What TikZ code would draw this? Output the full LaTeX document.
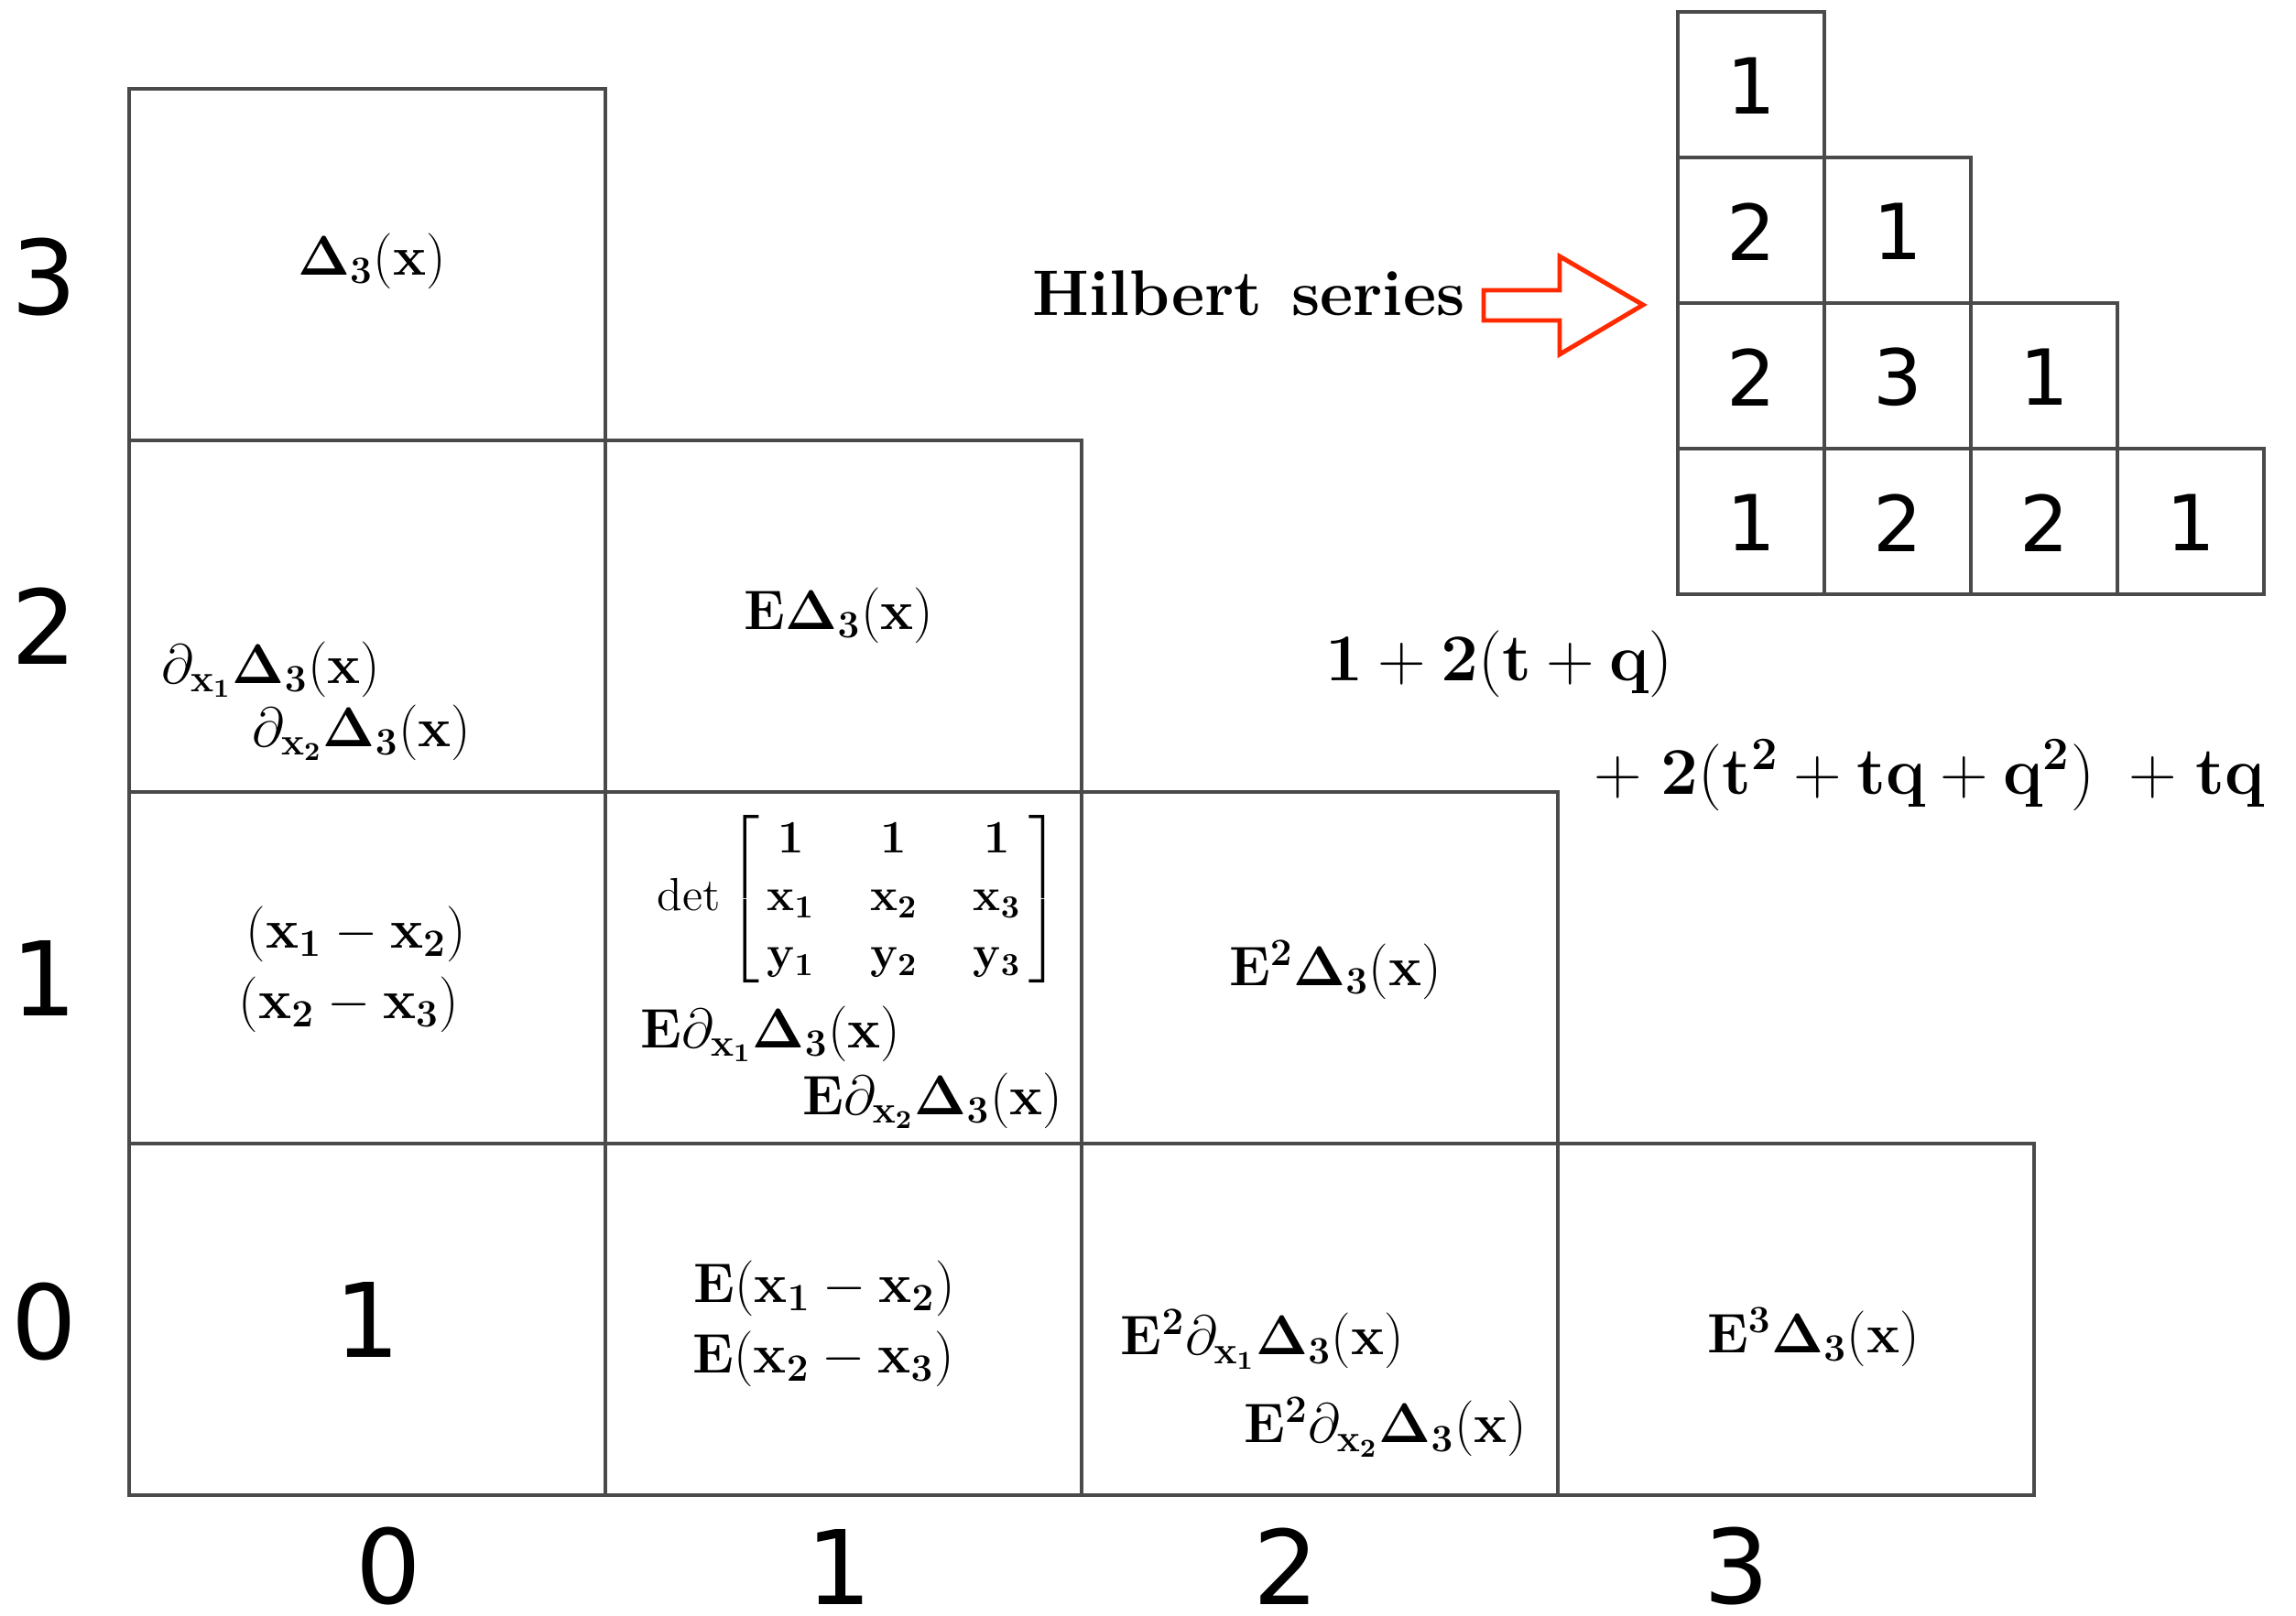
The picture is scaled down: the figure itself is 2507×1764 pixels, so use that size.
\documentclass[tikz,border=0pt]{standalone}
\usepackage{amsmath}
\usepackage[no-math]{fontspec}
\usepackage{tikz}
\usetikzlibrary{positioning}
\newfontfamily\axisfont{DejaVu Sans}
\definecolor{gridgray}{HTML}{4A4A4A}
\definecolor{arrowred}{HTML}{FF2A00}
\newcommand{\bx}{\mathbf{x}}
\newcommand{\Dthree}{\mathbf{\Delta}_{\mathbf{3}}(\bx)}
\newcommand{\dx}[1]{\partial_{\bx_{\mathbf{#1}}}}

\begin{document}
\begin{tikzpicture}[x=0.01cm, y=-0.01cm,
  gridline/.style={draw=gridgray, line width=1.1pt},
  cellmath/.style={font=\fontsize{16.4}{19}\selectfont, inner sep=0pt},
  axislbl/.style={font=\axisfont\fontsize{32}{36}\selectfont, inner sep=0pt},
  hilbnum/.style={font=\axisfont\fontsize{24}{28}\selectfont, inner sep=0pt},
  polyline/.style={font=\fontsize{21.5}{25}\selectfont, inner sep=0pt, anchor=base west}]
  \useasboundingbox (0,0) rectangle (2507,1764);

  % staircase of cells
  \foreach \i/\j in {0/0,1/0,2/0,3/0,0/1,1/1,2/1,0/2,1/2,0/3}
    \draw[gridline] (141+520*\i,1633-384*\j) rectangle ++(520,-384);

  % row and column indices
  \node[axislbl] (r0) at (48,1444) {0};
  \node[axislbl] (r1) at (48,1068) {1};
  \node[axislbl] (r2) at (48,684) {2};
  \node[axislbl] (r3) at (48,303) {3};
  \node[axislbl] (c0) at (424,1711) {0};
  \node[axislbl] (c1) at (916,1711) {1};
  \node[axislbl] (c2) at (1404,1711) {2};
  \node[axislbl] (c3) at (1896,1711) {3};

  % cell contents
  \node[cellmath] (t03) at (406,285) {$\Dthree$};
  \node[cellmath] (t12) at (916,672) {$\mathbf{E}\Dthree$};
  \node[cellmath, anchor=west] (t02a) at (176,731) {$\dx{1}\Dthree$};
  \node[cellmath, anchor=west] (t02b) at (275,800) {$\dx{2}\Dthree$};
  \node[cellmath] (t01a) at (389,1020) {$(\bx_{\mathbf 1}-\bx_{\mathbf 2})$};
  \node[cellmath] (t01b) at (381,1097) {$(\bx_{\mathbf 2}-\bx_{\mathbf 3})$};
  \node[cellmath, anchor=east, font=\fontsize{14}{18}\selectfont] (det) at (1158,982)
    {$\det\left[\begin{array}{@{\hspace{2.5pt}}c@{\hspace{17.2pt}}c@{\hspace{17.2pt}}c@{\hspace{2.5pt}}}
      \mathbf 1 & \mathbf 1 & \mathbf 1\\
      \bx_{\mathbf 1} & \bx_{\mathbf 2} & \bx_{\mathbf 3}\\
      \mathbf{y}_{\mathbf 1} & \mathbf{y}_{\mathbf 2} & \mathbf{y}_{\mathbf 3}
    \end{array}\right]$};
  \node[cellmath, anchor=west] (t11a) at (699,1129) {$\mathbf{E}\dx{1}\Dthree$};
  \node[cellmath, anchor=east] (t11b) at (1161,1202) {$\mathbf{E}\dx{2}\Dthree$};
  \node[cellmath] (t21) at (1458,1059) {$\mathbf{E}^{\mathbf 2}\Dthree$};
  \node[axislbl] (t00) at (401,1441) {1};
  \node[cellmath] (t10a) at (900,1407) {$\mathbf{E}(\bx_{\mathbf 1}-\bx_{\mathbf 2})$};
  \node[cellmath] (t10b) at (899,1484) {$\mathbf{E}(\bx_{\mathbf 2}-\bx_{\mathbf 3})$};
  \node[cellmath, anchor=west] (t20a) at (1223,1463) {$\mathbf{E}^{\mathbf 2}\dx{1}\Dthree$};
  \node[cellmath, anchor=east] (t20b) at (1668,1559) {$\mathbf{E}^{\mathbf 2}\dx{2}\Dthree$};
  \node[cellmath] (t30) at (1980,1460) {$\mathbf{E}^{\mathbf 3}\Dthree$};

  % Hilbert series table
  \foreach \i/\j/\v in {0/0/1,1/0/2,2/0/2,3/0/1,0/1/2,1/1/3,2/1/1,0/2/2,1/2/1,0/3/1}{
    \draw[gridline] (1832+160*\i,649-159*\j) rectangle ++(160,-159);
    \node[hilbnum] (h\i\j) at (1912+160*\i,571-159*\j) {\v};
  }

  \node[anchor=east, inner sep=0pt, font=\bfseries\fontsize{20}{24}\selectfont] (hlabel) at (1600,320)
    {Hilbert\hspace{0.45em}series};
  \draw[arrowred, line width=1.4pt, line join=miter]
    (1620,317) -- (1703,317) -- (1703,280) -- (1794,333) -- (1703,387) -- (1703,350) -- (1620,350) -- cycle;

  \node[polyline] (poly1) at (1447,743) {$\mathbf{1}+\mathbf{2}(\mathbf{t}+\mathbf{q})$};
  \node[polyline] (poly2) at (1740,867)
    {${+}\;\mathbf{2}(\mathbf{t}^{\mathbf 2}+\mathbf{tq}+\mathbf{q}^{\mathbf 2})\enspace{+}\;\mathbf{tq}$};
\end{tikzpicture}
\end{document}
